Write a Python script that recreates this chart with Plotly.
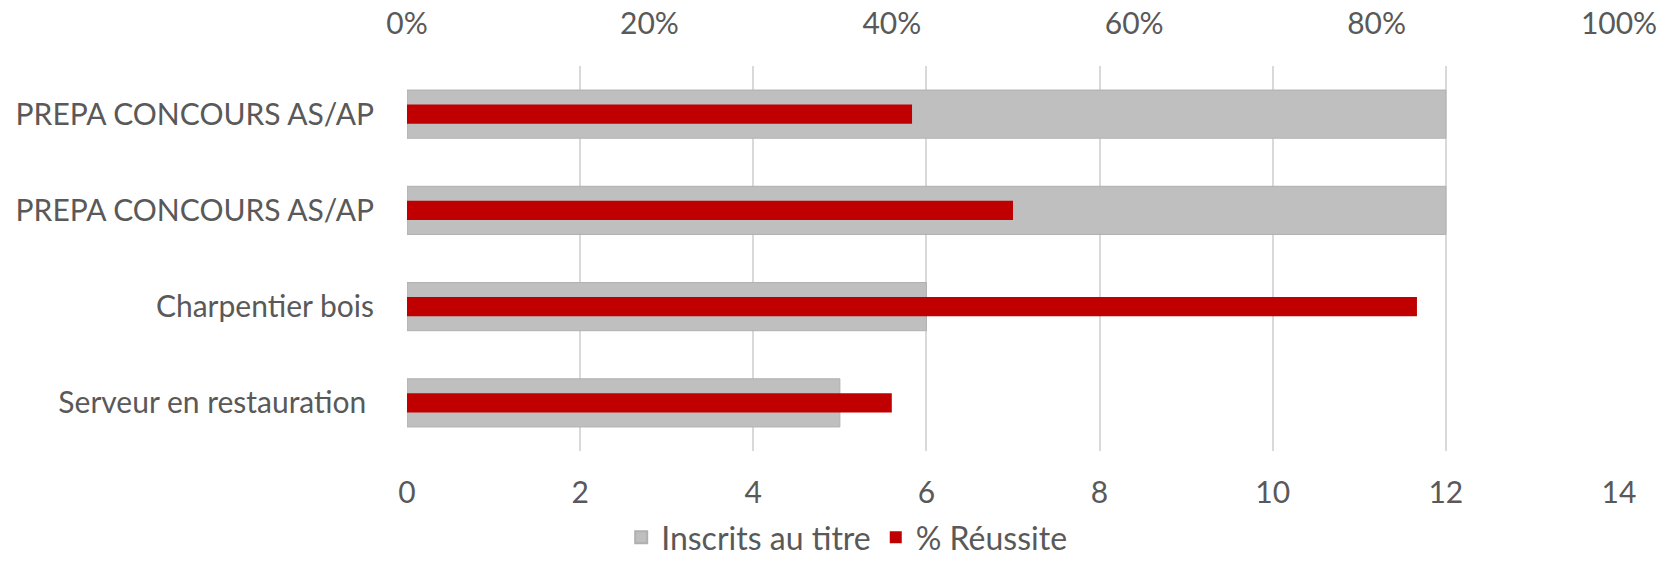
import plotly.graph_objects as go

categories = ["PREPA CONCOURS AS/AP", "PREPA CONCOURS AS/AP", "Charpentier bois", "Serveur en restauration "]
cat_ids = ["c1", "c2", "c3", "c4"]
inscrits = [12, 12, 6, 5]
reussite = [0.4167, 0.50, 0.8333, 0.40]
x_ticks = [0, 2, 4, 6, 8, 10, 12, 14]
pct_ticks = [0, 0.2, 0.4, 0.6, 0.8, 1.0]

FONT = "Lato"
TXT = "#595959"
FS = 30

fig = go.Figure()
fig.add_trace(go.Bar(
    y=cat_ids, x=inscrits, orientation="h", name="Inscrits au titre",
    marker=dict(color="#BFBFBF", line=dict(color="#B0B0B0", width=1)),
    width=0.5, xaxis="x", yaxis="y",
))
fig.add_trace(go.Bar(
    y=cat_ids, x=reussite, orientation="h", name="% Réussite",
    marker=dict(color="#C00000", line=dict(width=0)),
    width=0.2, xaxis="x2", yaxis="y",
))

fig.update_layout(
    width=1670, height=561,
    paper_bgcolor="white", plot_bgcolor="white",
    margin=dict(l=407, r=51, t=66, b=110, autoexpand=False),
    barmode="overlay",
    font=dict(family=FONT, size=FS, color=TXT),
    xaxis=dict(
        range=[0, 14], tickvals=x_ticks, showgrid=True, gridcolor="#D9D9D9", gridwidth=2,
        zeroline=False, showline=False, ticks="", ticklabelstandoff=21, automargin=False,
        tickfont=dict(family=FONT, size=FS, color=TXT), fixedrange=True,
    ),
    xaxis2=dict(
        range=[0, 1], tickvals=pct_ticks, tickformat=".0%", overlaying="x", side="top",
        showgrid=False, zeroline=False, showline=False, ticks="", ticklabelstandoff=25,
        automargin=False, tickfont=dict(family=FONT, size=FS, color=TXT),
    ),
    yaxis=dict(
        tickvals=cat_ids, ticktext=categories, autorange="reversed",
        showgrid=False, zeroline=False, showline=False, ticks="", ticklabelstandoff=32,
        automargin=False, tickfont=dict(family=FONT, size=FS, color=TXT),
    ),
    legend=dict(
        orientation="h", xref="container", yref="container", x=0.507, y=0.042,
        xanchor="center", yanchor="middle",
        font=dict(family=FONT, size=32, color=TXT), itemsizing="constant",
        bgcolor="rgba(0,0,0,0)",
    ),
    showlegend=True,
)

fig.write_html(
    "out.html",
    config={"displayModeBar": False},
    post_script="document.body.style.margin='0';document.body.style.overflow='hidden';",
)
